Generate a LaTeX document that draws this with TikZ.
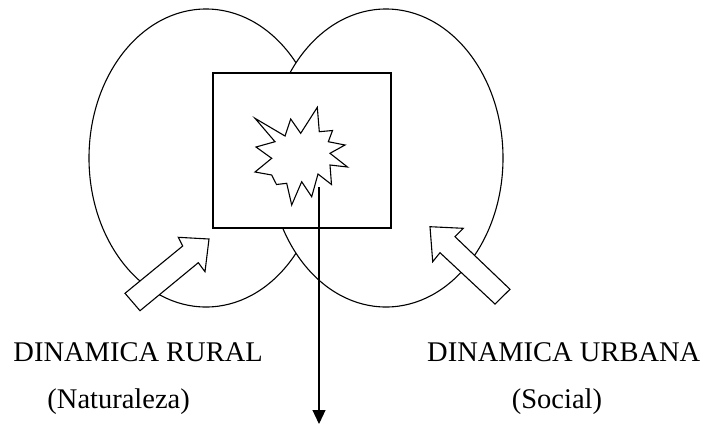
\documentclass[tikz,border=0pt]{standalone}
\usepackage{fontspec}
\setmainfont{Liberation Serif}
\usetikzlibrary{shapes.geometric,arrows.meta}
\tikzset{
  lobe/.style={ellipse,draw,fill=white,line width=1.1bp,minimum width=234bp,minimum height=298bp,inner sep=0pt,outer sep=0pt},
  centerbox/.style={rectangle,draw,fill=white,line width=1.1bp,minimum width=178bp,minimum height=155bp,inner sep=0pt,outer sep=0pt},
  shape line/.style={draw,fill=white,line width=1.1bp,line join=miter},
  flowline/.style={line width=1.1bp,-{Triangle[width=13bp,length=14bp]}},
  label/.style={inner sep=0pt,font=\fontsize{28.6}{32}\selectfont}
}
\begin{document}
\begin{tikzpicture}[x=1bp,y=-1bp]
\useasboundingbox (0,0) rectangle (709,425);
% lobes
\node[lobe] (rural) at (206,158) {};
\node[lobe] (urbana) at (386,158) {};
\node[centerbox] (box) at (302,150.5) {};
% starburst
\path[shape line] (255,118.3) -- (285,136) -- (290.7,119) -- (300.7,133.3) -- (317.3,107.3) -- (319.3,131.7) -- (332.5,130.5) -- (328.3,141.7) -- (345,145) -- (330,153.3) -- (347.5,167) -- (330,165) -- (331.5,184.5) -- (318,174) -- (311.7,196.7) -- (301.7,181.7) -- (291.7,205) -- (286.7,183.3) -- (276.5,184.5) -- (271.7,175) -- (255,172) -- (271.7,158.3) -- (256,147) -- (275,141.7) -- cycle;
% hollow arrows
\path[shape line] (209,239) -- (178.3,237.3) -- (182.7,246) -- (125,293.3) -- (140,310.7) -- (198.3,262.7) -- (205,271.7) -- cycle;
\path[shape line] (430,226.7) -- (463.3,228.3) -- (455,236.7) -- (510,289.3) -- (495,304) -- (440,252.7) -- (432.7,261.7) -- cycle;
% outgoing line
\coordinate (src) at (319,187);
\coordinate (out) at (319,424);
\draw[flowline] (src) -- (out);
% labels
\node[label,anchor=base east] (t1) at (263,361) {DINAMICA RURAL};
\node[label,anchor=base east] (t2) at (190,408) {(Naturaleza)};
\node[label,anchor=base west] (t3) at (427,361) {DINAMICA URBANA};
\node[label,anchor=base] (t4) at (557,408) {(Social)};
\end{tikzpicture}
\end{document}
